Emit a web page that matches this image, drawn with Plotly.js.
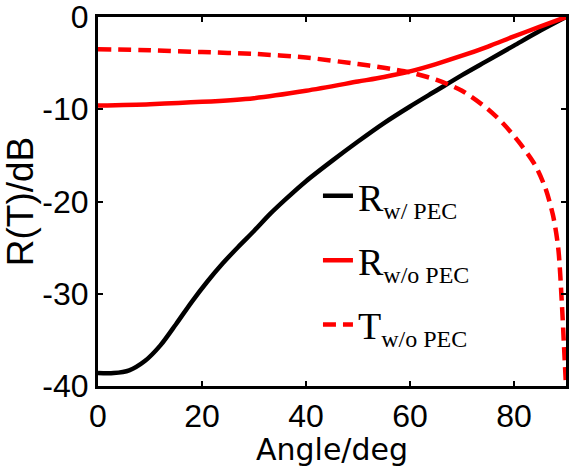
<!DOCTYPE html>
<html>
<head>
<meta charset="utf-8">
<script src="https://cdn.plot.ly/plotly-3.0.1.min.js"></script>
<style>html,body{margin:0;padding:0;background:#fff;}#chart{width:574px;height:467px;}</style>
</head>
<body>
<div id="chart"></div>
<script>
// R w/ PEC (black solid)
const angleRwPEC = [0, 3, 6, 9, 12, 15, 18, 21, 24, 27, 30, 33, 36, 40, 45, 50, 55, 60, 65, 70, 75, 80, 85, 90];
const valRwPEC   = [-38.6, -38.6, -38.3, -37.3, -35.6, -33.3, -30.9, -28.7, -26.7, -24.9, -23.2, -21.4, -19.8, -17.8, -15.6, -13.5, -11.5, -9.7, -8.0, -6.3, -4.7, -3.1, -1.5, 0];
// R w/o PEC (red solid)
const angleRwoPEC = [0, 10, 20, 30, 40, 50, 55, 60, 65, 70, 75, 80, 85, 90];
const valRwoPEC   = [-9.6, -9.45, -9.2, -8.8, -8.0, -7.0, -6.5, -5.9, -5.1, -4.2, -3.2, -2.1, -1.05, 0];
// T w/o PEC (red dashed)
const angleTwoPEC = [0, 10, 20, 30, 40, 50, 55, 60, 65, 70, 75, 78, 81, 84, 86, 87.5, 88.5, 89.2, 89.6, 90];
const valTwoPEC   = [-3.5, -3.6, -3.8, -4.0, -4.4, -5.1, -5.5, -6.0, -6.8, -8.0, -10.0, -11.6, -13.6, -16.0, -18.5, -21.5, -25, -31, -35.5, -40];

const legendNames = [
  'R<sub><span style="font-size:24px">w/ PEC</span></sub>',
  'R<sub><span style="font-size:24px">w/o PEC</span></sub>',
  'T<sub><span style="font-size:24px">w/o PEC</span></sub>'
];
const xTicks = [0, 20, 40, 60, 80];
const yTicks = [0, -10, -20, -30, -40];

const traces = [
  {x: angleRwPEC, y: valRwPEC, name: legendNames[0], legendgroup: 'a', type: 'scatter', mode: 'lines',
   line: {color: '#000000', width: 4.5, shape: 'spline', smoothing: 0.8}},
  {x: angleRwoPEC, y: valRwoPEC, name: legendNames[1], legendgroup: 'b', type: 'scatter', mode: 'lines',
   line: {color: '#ff0000', width: 4.5, shape: 'spline', smoothing: 0.8}},
  {x: angleTwoPEC, y: valTwoPEC, name: legendNames[2], legendgroup: 'c', type: 'scatter', mode: 'lines',
   line: {color: '#ff0000', width: 4.5, dash: '13px,7px', shape: 'spline', smoothing: 0.8}}
];

const axisCommon = {
  showline: true, linecolor: '#000', linewidth: 3, mirror: 'ticks',
  ticks: 'inside', ticklen: 5, tickwidth: 2, tickcolor: '#000',
  showgrid: false, zeroline: false, ticklabeloverflow: 'allow',
  tickfont: {family: 'Liberation Sans, Arial, sans-serif', size: 32, color: '#000'}
};

const layout = {
  width: 574, height: 467,
  margin: {l: 98, r: 8, t: 17, b: 81},
  paper_bgcolor: '#fff', plot_bgcolor: '#fff',
  xaxis: Object.assign({}, axisCommon, {
    range: [0, 90], tickvals: xTicks, ticktext: xTicks.map(String),
    title: {text: 'Angle/deg', standoff: 0, font: {family: 'DejaVu Sans, sans-serif', size: 30, color: '#000'}}
  }),
  yaxis: Object.assign({}, axisCommon, {
    range: [-40, 0], tickvals: yTicks, ticktext: yTicks.map(String),
    title: {text: 'R(T)/dB', standoff: 2, font: {family: 'Liberation Sans, Arial, sans-serif', size: 37, color: '#000'}}
  }),
  showlegend: true,
  legend: {
    x: 0.47, y: 0.6, xanchor: 'left', yanchor: 'top',
    bgcolor: 'rgba(0,0,0,0)', borderwidth: 0,
    font: {family: 'Liberation Serif, Times New Roman, serif', size: 38, color: '#000'},
    itemwidth: 30, tracegroupgap: 12
  }
};

Plotly.newPlot('chart', traces, layout, {displayModeBar: false, staticPlot: true});
</script>
</body>
</html>
